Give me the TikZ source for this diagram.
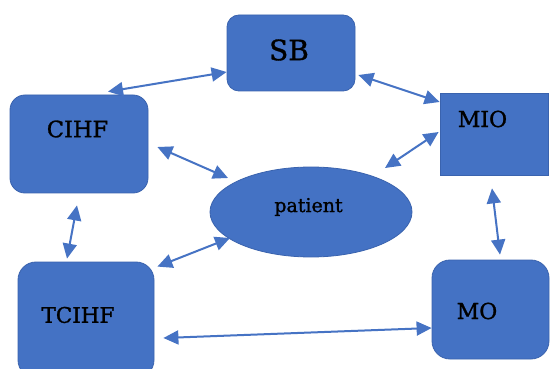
\documentclass[tikz,border=0pt]{standalone}
\usepackage{fontspec}
\newfontfamily\labelserif[FakeBold=1.2]{DejaVu Serif}
\usetikzlibrary{arrows.meta,calc,shapes.geometric}
\definecolor{boxfill}{HTML}{4472C4}
\definecolor{boxline}{HTML}{3A63AE}
\definecolor{arrowc}{HTML}{4673C4}
\tikzset{
  box/.style={draw=boxline, fill=boxfill, line width=0.8pt, inner sep=0pt},
  lbl/.style={text=black, inner sep=0pt, font=\labelserif\fontsize{#1}{#1}\selectfont},
  link/.style={arrowc, line width=2pt, {Triangle[length=15pt,width=14pt]}-{Triangle[length=15pt,width=14pt]}}
}
\begin{document}
\begin{tikzpicture}[x=1pt,y=-1pt]
\useasboundingbox (0,0) rectangle (550,369);
\clip (0,0) rectangle (550,369);
\fill[white] (0,0) rectangle (550,369);
% shapes
\node[box, rounded corners=12pt, minimum width=128pt, minimum height=76pt] (SB) at (291,53) {};
\node[box, rounded corners=15pt, minimum width=138pt, minimum height=98pt] (CIHF) at (79,144) {};
\node[box, minimum width=108pt, minimum height=82pt] (MIO) at (494,134) {};
\node[box, ellipse, minimum width=202pt, minimum height=90pt] (patient) at (311,212) {};
\node[box, rounded corners=18pt, minimum width=136pt, minimum height=116pt] (TCIHF) at (86,320) {};
\node[box, rounded corners=18pt, minimum width=117pt, minimum height=99pt] (MO) at (490.5,309.5) {};
% texts
\node[lbl=28] (SBt) at (289,50) {SB};
\node[lbl=22.5] (CIHFt) at (77.5,129) {CIHF};
\node[lbl=22] (MIOt) at (482.5,119) {MIO};
\node[lbl=19] (patientt) at (308.5,207) {patient};
\node[lbl=21.5] (TCIHFt) at (78,315) {TCIHF};
\node[lbl=22] (MOt) at (477,311) {MO};
% connectors
\draw[link] ($(CIHF.north)+(29,-3)$) -- ($(SB.west)+(0,19)$);
\draw[link] ($(SB.east)+(3,22)$) -- ($(MIO.west)+(0,-32)$);
\draw[link] ($(MIO.west)+(-1,-2)$) -- ($(patient.center)+(74,-44)$);
\draw[link] ($(CIHF.east)+(9,3)$) -- ($(patient.center)+(-83,-34)$);
\draw[link] ($(CIHF.south)+(-2,12)$) -- ($(TCIHF.north)+(-19,-3)$);
\draw[link] ($(TCIHF.north east)+(3,5)$) -- ($(patient.center)+(-81,26)$);
\draw[link] ($(TCIHF.east)+(9,18)$) -- ($(MO.west)+(0,18.5)$);
\draw[link] ($(MIO.south)+(-2,13)$) -- ($(MO.north)+(9.5,-5)$);
\end{tikzpicture}
\end{document}
